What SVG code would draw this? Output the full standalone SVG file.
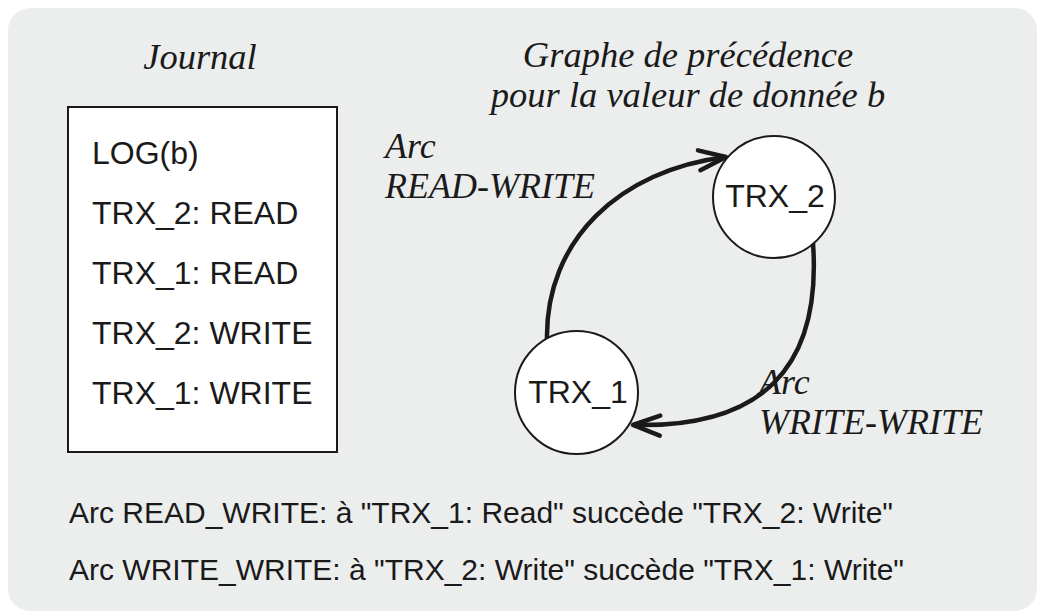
<svg xmlns="http://www.w3.org/2000/svg" width="1038" height="612" viewBox="0 0 1038 612">
<defs>
<style>
.serif{font-family:"Liberation Serif","Times New Roman",serif;font-style:italic;font-size:36.5px;fill:#1a1a1a}
.lbl{font-family:"Liberation Serif","Times New Roman",serif;font-style:italic;font-size:36px;fill:#1a1a1a}
.sans{font-family:"Liberation Sans",Arial,sans-serif;font-size:32px;fill:#1a1a1a}
.foot{font-family:"Liberation Sans",Arial,sans-serif;font-size:30px;fill:#1a1a1a}
.node{fill:#fff;stroke:#1a1a1a;stroke-width:2}
.edge{fill:none;stroke:#1a1a1a;stroke-width:4.5}
</style>
<marker id="arr" markerUnits="userSpaceOnUse" markerWidth="40" markerHeight="30" viewBox="-32 -15 40 30" refX="0" refY="0" orient="auto">
<path d="M-27,-10 L0,0 L-27,10" fill="none" stroke="#1a1a1a" stroke-width="4.5" stroke-linecap="round" stroke-linejoin="round"/>
</marker>
</defs>
<rect x="8" y="8" width="1029" height="603" rx="22" fill="#eceeed"/>
<text class="serif" x="200" y="69" text-anchor="middle">Journal</text>
<text class="serif" x="688" y="67" text-anchor="middle">Graphe de précédence</text>
<text class="serif" x="688" y="107" text-anchor="middle">pour la valeur de donnée b</text>
<g id="journal">
<rect x="68" y="107" width="269" height="345" fill="#fff" stroke="#1a1a1a" stroke-width="2"/>
<text class="sans" x="92" y="164">LOG(b)</text>
<text class="sans" x="92" y="224">TRX_2: READ</text>
<text class="sans" x="92" y="284">TRX_1: READ</text>
<text class="sans" x="92" y="344">TRX_2: WRITE</text>
<text class="sans" x="92" y="404">TRX_1: WRITE</text>
</g>
<g id="connectors">
<path class="edge" d="M547,340 C545,240 620,170 726,157" marker-end="url(#arr)"/>
<path class="edge" d="M813,243 C822,370 760,428 633,425" marker-end="url(#arr)"/>
</g>
<g id="trx2">
<circle class="node" cx="774" cy="197" r="61"/>
<text class="sans" x="775" y="207" text-anchor="middle">TRX_2</text>
</g>
<g id="trx1">
<circle class="node" cx="576.5" cy="392.5" r="61.5"/>
<text class="sans" x="578" y="403" text-anchor="middle">TRX_1</text>
</g>
<g id="labels">
<text class="lbl" x="385" y="158">Arc</text>
<text class="lbl" x="385" y="198">READ-WRITE</text>
<text class="lbl" x="759" y="394">Arc</text>
<text class="lbl" x="759" y="434">WRITE-WRITE</text>
</g>
<text class="foot" x="69" y="523">Arc READ_WRITE: à "TRX_1: Read" succède "TRX_2: Write"</text>
<text class="foot" x="69" y="580">Arc WRITE_WRITE: à "TRX_2: Write" succède "TRX_1: Write"</text>
</svg>
